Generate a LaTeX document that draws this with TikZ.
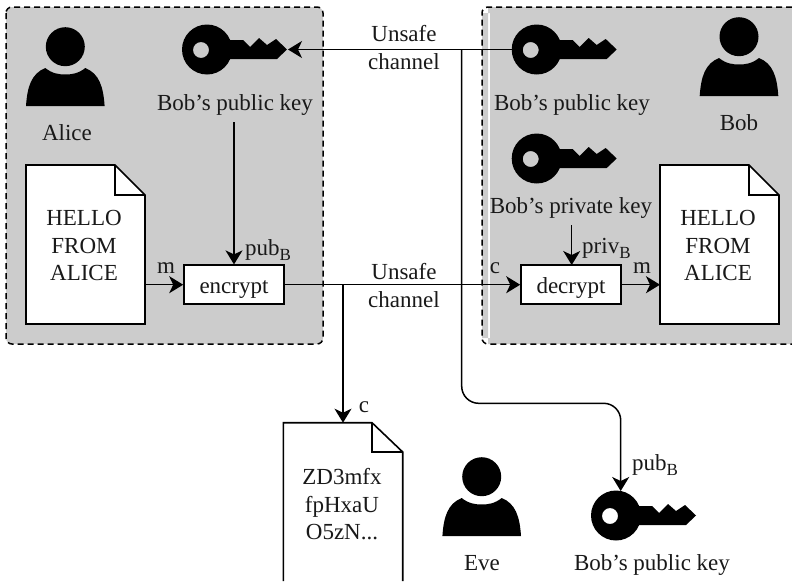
\documentclass[tikz,border=0pt]{standalone}
\usepackage{fontspec}
\setmainfont{Liberation Serif}
\usetikzlibrary{arrows.meta}
\newcommand{\subB}[2]{#1\raisebox{-5pt}{\fontsize{17}{17}\selectfont #2}}
\definecolor{panelgray}{gray}{0.8}
\tikzset{
  x=1pt,y=-1pt,
  every node/.style={font=\fontsize{23}{27}\selectfont,inner sep=0pt,text=black!90},
  lbl/.style={anchor=base},
  lblw/.style={anchor=base west},
  panel/.style={fill=panelgray,draw=black,line width=1.5pt,dash pattern=on 6pt off 4pt,rounded corners=6pt},
  docshape/.style={fill=white,draw=black,line width=1.6pt,line join=miter},
  procbox/.style={fill=white,draw=black,line width=1.6pt,minimum width=100pt,minimum height=39pt},
  conn/.style={draw=black,line width=1.5pt},
  arr/.style={conn,-{Stealth[length=14pt,width=17pt,inset=4pt]}},
  keyicon/.pic={
    \fill[black,even odd rule] (0,0) circle[radius=25pt] (-6,0.5) circle[radius=8pt];
    \fill[black] (22,-9.5) -- (36,-9.5) -- (43,-2.5) -- (52,-11.5) -- (60,-4.5) -- (69,-10.5) -- (80,0) -- (70,9.5) -- (20,9.5) -- cycle;
    \coordinate (-west) at (-25,0);
    \coordinate (-north) at (0,-25);
    \coordinate (-tip) at (81,0);
  },
  personicon/.pic={
    \fill[black] (0,0) circle[radius=19.5pt];
    \fill[black] (-39.3,59.3) .. controls (-38,40) and (-34,27) .. (-20,21.3)
      .. controls (-13,27) and (-6,27.8) .. (0,27.8)
      .. controls (6,27.8) and (13,27) .. (20,21.3)
      .. controls (34,27) and (38,40) .. (39.3,59.3) -- cycle;
  }
}
\begin{document}
\begin{tikzpicture}
\useasboundingbox (0,0) rectangle (792,581);
% panels
\path[panel] (6,7) rectangle (323,344);
\path[fill=panelgray] (488,7) -- (792,7) -- (792,344) -- (488,344) -- cycle (482,13) rectangle (490,338);
\path[panel,fill=none] (792,7) -- (482,7) -- (482,344) -- (792,344);
% people
\pic at (65.3,46.7) {personicon};
\pic at (739,36.7) {personicon};
\pic at (481.7,476.7) {personicon};
% keys
\pic (ka) at (207,49.5) {keyicon};
\pic (kb) at (536.7,49.5) {keyicon};
\pic (kp) at (536.7,158.5) {keyicon};
\pic (ke) at (616,515.5) {keyicon};
% documents
\draw[docshape] (26,165) -- (115,165) -- (145,195) -- (145,324) -- (26,324) -- cycle;
\draw[line width=1.6pt] (115,165) -- (115,195) -- (145,195);
\draw[docshape] (660,165) -- (749,165) -- (779,195) -- (779,324) -- (660,324) -- cycle;
\draw[line width=1.6pt] (749,165) -- (749,195) -- (779,195);
\fill[white] (283.3,422.7) -- (372,422.7) -- (402.7,452) -- (402.7,581) -- (283.3,581) -- cycle;
\draw[docshape,fill=none] (283.3,581) -- (283.3,422.7) -- (372,422.7) -- (402.7,452) -- (402.7,581);
\draw[line width=1.6pt] (372,422.7) -- (372,452) -- (402.7,452);
\coordinate (docain) at (145,284.7);
\coordinate (docbin) at (660,284.7);
\coordinate (doccin) at (343,422.7);
% process boxes
\node[procbox] (enc) at (234,284.7) {};
\node[procbox] (dec) at (571,284.7) {};
\node[lbl] (enct) at (234,293) {encrypt};
\node[lbl] (dect) at (571,293) {decrypt};
% texts
\node[lbl] (tka) at (235,110.7) {Bob's public key};
\node[lbl] (talice) at (67,140) {Alice};
\node[lbl] (tkb) at (572,110.7) {Bob's public key};
\node[lbl] (tbob) at (739,130) {Bob};
\node[lbl] (tkp) at (571,213) {Bob's private key};
\node[lbl] (ta1) at (84,225) {HELLO};
\node[lbl] (ta2) at (84,253) {FROM};
\node[lbl] (ta3) at (84,280.7) {ALICE};
\node[lbl] (tb1) at (718,225) {HELLO};
\node[lbl] (tb2) at (718,253) {FROM};
\node[lbl] (tb3) at (718,280.7) {ALICE};
\node[lbl] (tc1) at (342,484) {ZD3mfx};
\node[lbl] (tc2) at (342,512) {fpHxaU};
\node[lbl] (tc3) at (342,539) {O5zN...};
\node[lbl] (teve) at (482,570.7) {Eve};
\node[lbl] (tke) at (652,570.7) {Bob's public key};
\node[lbl] (u1) at (404,41) {Unsafe};
\node[lbl] (c1) at (404,69) {channel};
\node[lbl] (u2) at (404,279) {Unsafe};
\node[lbl] (c2) at (404,307) {channel};
\node[lbl] (lm1) at (166,273) {m};
\node[lbl] (lm2) at (642,273) {m};
\node[lbl] (lc1) at (495,273) {c};
\node[lbl] (lc2) at (364,412) {c};
\node[lblw] (lp1) at (245,255) {\subB{pub}{B}};
\node[lblw] (lp2) at (582,253) {\subB{priv}{B}};
\node[lblw] (lp3) at (632,470.7) {\subB{pub}{B}};
% connectors
\coordinate (splitk) at (461.7,49.5);
\coordinate (splitc) at (343,284.7);
\draw[arr] (kb-west) -- (ka-tip);
\draw[arr,rounded corners=17pt] (splitk) -- (461.7,403.3) -- (620.7,403.3) -- (620.7,491);
\draw[arr] (234,122) -- (enc.north);
\draw[arr] (571.7,225) -- (571.7,265);
\draw[arr] (docain) -- (enc.west);
\draw[arr] (enc.east) -- (dec.west);
\draw[arr] (dec.east) -- (docbin);
\draw[arr] (splitc) -- (doccin);
\end{tikzpicture}
\end{document}
